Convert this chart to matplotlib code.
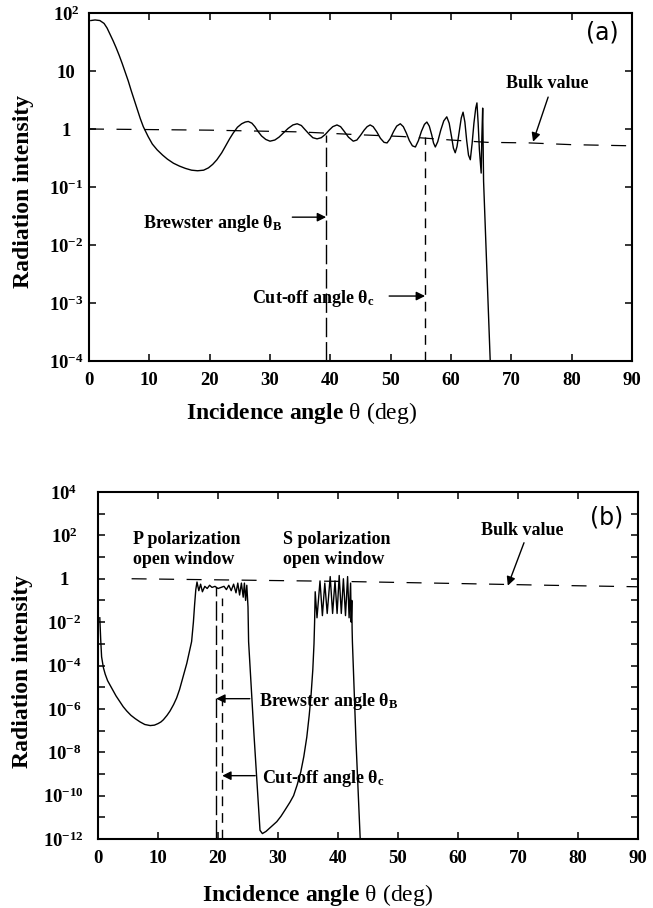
import numpy as np
import matplotlib
matplotlib.use("Agg")
import matplotlib.pyplot as plt
from matplotlib.ticker import NullLocator

plt.rcParams['font.family'] = ['Liberation Serif', 'DejaVu Serif']
plt.rcParams['font.weight'] = 'bold'
plt.rcParams['mathtext.fontset'] = 'custom'
plt.rcParams['mathtext.rm'] = 'Liberation Serif:weight=normal'
plt.rcParams['mathtext.it'] = 'Liberation Serif:style=italic'
plt.rcParams['mathtext.bf'] = 'Liberation Serif:weight=bold'

# ---- panel (a): (angle in deg, log10 of radiation intensity)
curve_a = [
    (0.3, 1.87), (1.0, 1.88), (1.8, 1.87), (2.5, 1.82), (3.0, 1.74),
    (3.5, 1.63), (4.0, 1.52), (4.5, 1.40), (5.0, 1.27), (5.5, 1.13),
    (6.0, 0.98), (6.5, 0.83), (7.0, 0.66), (7.5, 0.50), (8.0, 0.34),
    (8.5, 0.18), (9.0, 0.04), (9.8, -0.13), (10.5, -0.26), (11.3, -0.36),
    (12.2, -0.45), (13.0, -0.52), (14.0, -0.59), (15.0, -0.64), (16.0, -0.68),
    (17.0, -0.71), (18.0, -0.72), (19.0, -0.71), (19.8, -0.67), (20.5, -0.61),
    (21.2, -0.53), (22.0, -0.41), (22.6, -0.30), (23.3, -0.17), (23.9, -0.07),
    (24.6, 0.03), (25.3, 0.09), (25.9, 0.12), (26.4, 0.13), (27.0, 0.10),
    (27.5, 0.04), (28.0, -0.04), (28.6, -0.12), (29.3, -0.18), (30.0, -0.21),
    (30.8, -0.19), (31.5, -0.14), (32.3, -0.06), (33.0, 0.01), (33.8, 0.07),
    (34.5, 0.09), (35.2, 0.06), (35.8, -0.01), (36.5, -0.09), (37.1, -0.15),
    (37.8, -0.17), (38.5, -0.15), (39.2, -0.09), (39.8, -0.02), (40.4, 0.04),
    (41.1, 0.07), (41.7, 0.04), (42.3, -0.04), (43.0, -0.14), (43.8, -0.21),
    (44.4, -0.19), (45.0, -0.11), (45.6, -0.02), (46.1, 0.04), (46.6, 0.07),
    (47.1, 0.04), (47.7, -0.05), (48.3, -0.16), (48.9, -0.23), (49.4, -0.24),
    (49.9, -0.17), (50.5, -0.04), (51.0, 0.05), (51.6, 0.09), (52.1, 0.04),
    (52.6, -0.07), (53.1, -0.20), (53.6, -0.29), (54.1, -0.31), (54.6, -0.20),
    (55.1, -0.04), (55.6, 0.08), (56.0, 0.12), (56.4, 0.05), (56.8, -0.10),
    (57.1, -0.24), (57.4, -0.31), (57.8, -0.22), (58.3, -0.02), (58.8, 0.14),
    (59.3, 0.21), (59.7, 0.10), (60.1, -0.14), (60.4, -0.33), (60.7, -0.41),
    (61.0, -0.30), (61.4, -0.02), (61.7, 0.19), (62.0, 0.29), (62.3, 0.12),
    (62.6, -0.20), (62.9, -0.45), (63.2, -0.53), (63.5, -0.25), (63.8, 0.10),
    (64.1, 0.36), (64.3, 0.45), (64.5, 0.10), (64.7, -0.35), (65.0, -0.76),
    (65.1, -0.20), (65.25, 0.36), (65.4, -0.90), (66.5, -4.00), (66.6, -4.50),
]
bulk_theta_a = [0, 20, 35, 45, 52, 60, 66, 73, 80, 90]
bulk_log_a = [0.0, -0.02, -0.05, -0.10, -0.13, -0.19, -0.23, -0.24, -0.27, -0.29]
brewster_a = 39.3
cutoff_a = 55.7
brewster_top_a = -0.10
cutoff_top_a = -0.14

# ---- panel (b)
curve_b = [
    (0.3, -1.8), (0.45, -2.8), (0.6, -3.6), (0.9, -4.1), (1.2, -4.4),
    (1.6, -4.7), (2.0, -4.9), (2.5, -5.15), (3.0, -5.4), (3.6, -5.65),
    (4.2, -5.9), (4.8, -6.1), (5.5, -6.3), (6.2, -6.45), (7.0, -6.6),
    (7.8, -6.72), (8.7, -6.77), (9.4, -6.75), (10.0, -6.68), (10.5, -6.6),
    (10.9, -6.5), (11.5, -6.3), (12.0, -6.1), (12.6, -5.8), (13.1, -5.5),
    (13.6, -5.1), (14.0, -4.7), (14.4, -4.3), (14.8, -3.9), (15.2, -3.4),
    (15.6, -2.9), (15.9, -2.0), (16.1, -1.2), (16.3, -0.5), (16.5, -0.15),
    # P polarization window
    (16.8, -0.55), (17.1, -0.25), (17.4, -0.6), (17.8, -0.35), (18.2, -0.45),
    (18.6, -0.3), (19.0, -0.4), (19.5, -0.35), (20.0, -0.45), (20.5, -0.4),
    (21.0, -0.35), (21.4, -0.5), (21.8, -0.3), (22.2, -0.55), (22.6, -0.25),
    (23.0, -0.65), (23.3, -0.2), (23.6, -0.75), (23.9, -0.2), (24.2, -0.85),
    (24.4, -0.2), (24.6, -1.0), (24.8, -0.3), (25.0, -1.3),
    (25.1, -2.9), (26.0, -7.2), (27.0, -11.6), (27.4, -11.75), (28.0, -11.65),
    (28.8, -11.45), (29.8, -11.2), (30.5, -10.95), (31.2, -10.65), (32.0, -10.3),
    (32.6, -10.0), (33.2, -9.5), (33.8, -8.9), (34.3, -8.2), (34.8, -7.3),
    (35.2, -6.3), (35.5, -5.4), (35.8, -4.2), (36.0, -3.0), (36.1, -2.0),
    # S polarization window
    (36.2, -0.6), (36.5, -1.8), (37.0, -0.1), (37.4, -1.7), (37.8, -0.2),
    (38.2, -1.6), (38.7, 0.1), (39.1, -1.6), (39.5, -0.1), (39.85, -1.6),
    (40.2, 0.15), (40.55, -1.6), (40.9, 0.0), (41.25, -1.7), (41.6, 0.1),
    (41.85, -1.8), (42.1, -0.2), (42.2, -2.0), (42.3, -1.0), (42.35, -2.3),
    (42.4, -2.9), (43.0, -7.5), (43.7, -12.0), (43.8, -12.5),
]
bulk_theta_b = [5.6, 20, 40, 60, 75, 90]
bulk_log_b = [0.0, -0.05, -0.12, -0.22, -0.30, -0.37]
brewster_b = 19.7
cutoff_b = 20.7
brewster_top_b = -0.4
cutoff_top_b = -0.9

xticks = [0, 10, 20, 30, 40, 50, 60, 70, 80, 90]
yticks_a = [-4, -3, -2, -1, 0, 1, 2]
yticks_b = list(range(-12, 5))


def pow_label(e):
    if e == 0:
        return '1'
    if e == 1:
        return '10'
    return r'$\mathbf{10^{%d}}$' % e


fig = plt.figure(figsize=(6.53, 9.08), dpi=100)
ax1 = fig.add_axes([89/653, 1-361/908, 543/653, 348/908])
ax2 = fig.add_axes([98/653, 1-839/908, 540/653, 347/908])

arrow = dict(arrowstyle='-|>', color='k', lw=1.0, mutation_scale=13,
             shrinkA=0, shrinkB=0)
xlab = r'Incidence angle $\mathrm{θ\ (deg)}$'

# panel (a)
ta, la = np.array(curve_a).T
ax1.plot(ta, 10**la, color='k', lw=1.0)
ax1.plot(bulk_theta_a, 10**np.array(bulk_log_a), color='k', lw=0.9,
         ls=(0, (12, 10)))
ax1.plot([brewster_a, brewster_a], [1e-4, 10**brewster_top_a], color='k',
         lw=1.0, ls=(0, (14, 3.5)))
ax1.plot([cutoff_a, cutoff_a], [1e-4, 10**cutoff_top_a], color='k',
         lw=1.0, ls=(0, (7, 5)))
ax1.annotate('', xy=(brewster_a, 10**-1.52), xytext=(33.7, 10**-1.52),
             arrowprops=arrow)
ax1.text(32.0, 10**-1.71, r'Brewster angle $\mathbf{\theta_B}$', ha='right',
         va='baseline', fontsize=13)
ax1.annotate('', xy=(cutoff_a, 10**-2.88), xytext=(49.75, 10**-2.88),
             arrowprops=arrow)
ax1.text(47.3, 10**-3.0, r'Cut-off angle $\mathbf{\theta_c}$', ha='right',
         va='baseline', fontsize=13)
ax1.text(76.0, 10**0.71, 'Bulk value', ha='center', va='baseline',
         fontsize=13)
ax1.annotate('', xy=(73.6, 10**-0.22), xytext=(76.1, 10**0.55),
             arrowprops=arrow)
ax1.text(85.1, 10**1.66, '(a)', ha='center', va='center', fontsize=17,
         family='DejaVu Sans', weight='normal')
ax1.set_xlim(0, 90)
ax1.set_yscale('log')
ax1.set_ylim(1e-4, 1e2)
ax1.set_yticks([10.0**e for e in yticks_a], [pow_label(e) for e in yticks_a],
               ha='center', fontweight='bold')
ax1.tick_params(axis='y', pad=16.5)
ax1.set_xlabel(xlab, fontsize=17, fontweight='bold', va='center')
ax1.xaxis.set_label_coords(0.392, -0.149)
ax1.set_ylabel('Radiation intensity', fontsize=17, fontweight='bold',
               va='center')
ax1.yaxis.set_label_coords(-0.1215, 0.486)

# panel (b)
tb, lb = np.array(curve_b).T
ax2.plot(tb, 10**lb, color='k', lw=1.0)
ax2.plot(bulk_theta_b, 10**np.array(bulk_log_b), color='k', lw=0.9,
         ls=(0, (12, 10)))
ax2.plot([brewster_b, brewster_b], [1e-12, 10**brewster_top_b], color='k',
         lw=1.0, ls=(0, (14, 3.5)))
ax2.plot([cutoff_b, cutoff_b], [1e-12, 10**cutoff_top_b], color='k',
         lw=1.0, ls=(0, (7, 5)))
ax2.annotate('', xy=(brewster_b, 10**-5.53), xytext=(25.3, 10**-5.53),
             arrowprops=arrow)
ax2.text(26.8, 10**-5.85, r'Brewster angle $\mathbf{\theta_B}$', ha='left',
         va='baseline', fontsize=13)
ax2.annotate('', xy=(cutoff_b, 10**-9.08), xytext=(26.2, 10**-9.08),
             arrowprops=arrow)
ax2.text(27.3, 10**-9.4, r'Cut-off angle $\mathbf{\theta_c}$', ha='left',
         va='baseline', fontsize=13)
ax2.text(5.8, 10**1.61, 'P polarization', ha='left', va='baseline', fontsize=13)
ax2.text(5.8, 10**0.69, 'open window', ha='left', va='baseline', fontsize=13)
ax2.text(30.8, 10**1.61, 'S polarization', ha='left', va='baseline', fontsize=13)
ax2.text(30.8, 10**0.69, 'open window', ha='left', va='baseline', fontsize=13)
ax2.text(70.7, 10**2.03, 'Bulk value', ha='center', va='baseline',
         fontsize=13)
ax2.annotate('', xy=(68.3, 10**-0.32), xytext=(71.0, 10**1.66),
             arrowprops=arrow)
ax2.text(84.8, 10**2.81, '(b)', ha='center', va='center', fontsize=17,
         family='DejaVu Sans', weight='normal')
ax2.set_xlim(0, 90)
ax2.set_yscale('log')
ax2.set_ylim(1e-12, 1e4)
ax2.set_yticks([10.0**e for e in yticks_b],
               [pow_label(e) if e % 2 == 0 else '' for e in yticks_b],
               ha='center', fontweight='bold')
ax2.tick_params(axis='y', pad=24.5)
ax2.set_xlabel(xlab, fontsize=17, fontweight='bold', va='center')
ax2.xaxis.set_label_coords(0.406, -0.161)
ax2.set_ylabel('Radiation intensity', fontsize=17, fontweight='bold',
               va='center')
ax2.yaxis.set_label_coords(-0.139, 0.484)

for ax in (ax1, ax2):
    ax.set_xticks(xticks, [str(v) for v in xticks], fontweight='bold')
    ax.yaxis.set_minor_locator(NullLocator())
    ax.xaxis.set_minor_locator(NullLocator())
    ax.tick_params(direction='in', top=True, right=True, length=5, width=1.1,
                   labelsize=13.5)
    ax.tick_params(axis='x', pad=8)
    for s in ax.spines.values():
        s.set_linewidth(1.5)

fig.savefig('out.png', dpi=100)
